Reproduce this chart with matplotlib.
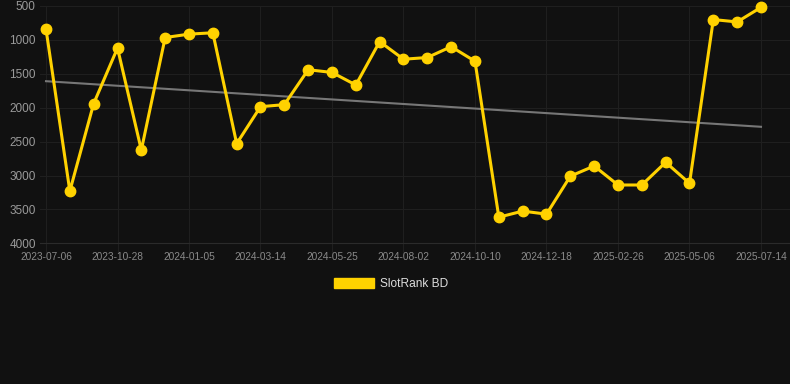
import numpy as np
import matplotlib
matplotlib.use("Agg")
import matplotlib.pyplot as plt
from matplotlib.patches import Patch

plt.rcParams['font.family'] = ['Liberation Sans', 'DejaVu Sans']

# rank values, one per category (31 snapshots)
ranks = [840, 3230, 1940, 1120, 2625, 965, 915, 895, 2530, 1985, 1955,
         1440, 1480, 1665, 1025, 1285, 1260, 1100, 1315, 3615, 3525,
         3570, 3010, 2860, 3140, 3140, 2805, 3115, 700, 735, 520]
tick_labels = ["2023-07-06", "2023-10-28", "2024-01-05", "2024-03-14",
               "2024-05-25", "2024-08-02", "2024-10-10", "2024-12-18",
               "2025-02-26", "2025-05-06", "2025-07-14"]
y_ticks = [500, 1000, 1500, 2000, 2500, 3000, 3500, 4000]
series_name = "SlotRank BD"

bg = "#111111"
gold = "#FFD200"
grid_col = "#1f1f1f"

x = np.arange(len(ranks))

fig = plt.figure(figsize=(7.9, 3.84), dpi=100, facecolor=bg)
ax = fig.add_axes([40 / 790, (384 - 243.3) / 384, 750 / 790, (243.3 - 6) / 384])
ax.set_facecolor(bg)

# trend line (least squares fit)
k, b = np.polyfit(x, ranks, 1)
ax.plot(x, k * x + b, color="#777777", lw=1.5, zorder=2)

ax.plot(x, ranks, color=gold, lw=2.2, marker="o", ms=7.5,
        zorder=3, clip_on=False)

ax.set_ylim(4000, 500)
ax.set_xlim(-6 / 23.83, 30 + 29 / 23.83)
ax.set_yticks(y_ticks)
ax.set_yticklabels([str(v) for v in y_ticks], fontsize=8.5, color="#9a9a9a")
ax.set_xticks(x[::3])
ax.set_xticklabels(tick_labels, fontsize=7.3, color="#8a8a8a")
ax.tick_params(axis="y", length=0, pad=3)
ax.tick_params(axis="x", length=7, width=0.8, color=grid_col, pad=-1)

ax.grid(True, color=grid_col, lw=0.8)
ax.set_axisbelow(True)
for s in ax.spines.values():
    s.set_visible(False)
ax.spines["bottom"].set_visible(True)
ax.spines["bottom"].set_color("#2b2b2b")
ax.spines["bottom"].set_linewidth(0.8)

handle = Patch(facecolor=gold, edgecolor=gold)
fig.legend([handle], [series_name], loc="center", bbox_to_anchor=(0.495, 0.26),
           frameon=False, fontsize=8.6, labelcolor="#dddddd",
           handlelength=3.3, handleheight=0.9, handletextpad=0.5)

fig.savefig("out.png", dpi=100, facecolor=bg)
